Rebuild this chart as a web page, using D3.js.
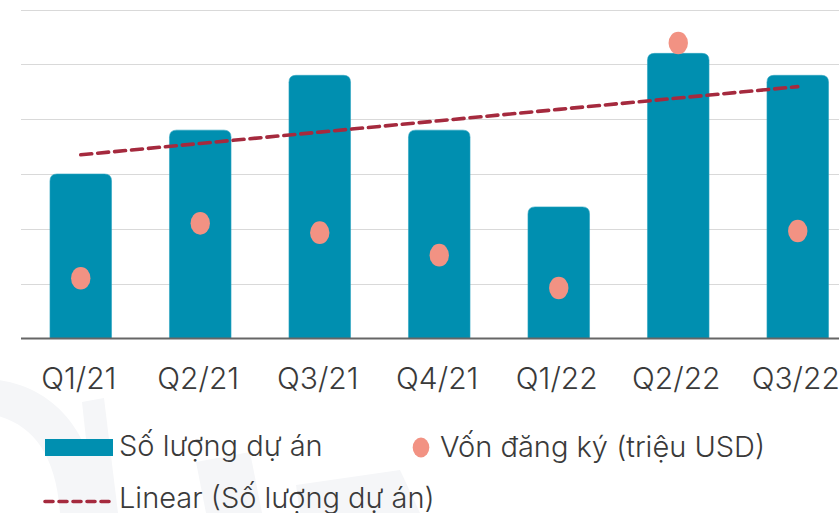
<!DOCTYPE html>
<html lang="vi">
<head>
    <meta charset="UTF-8">
    <title>Số lượng dự án và vốn đăng ký theo quý</title>
    <script src="https://d3js.org/d3.v7.min.js"></script>
    <style>
        html, body { margin: 0; padding: 0; background: #fff; overflow: hidden; }
        text { font-family: Inter, "Noto Sans", sans-serif; font-weight: 300; fill: #3a3a3a; }
    </style>
</head>
<body>
    <div id="chart"></div>

    <script>
        // quarters, project count (bars) and registered capital (dots, million USD)
        const quarters = ["Q1/21", "Q2/21", "Q3/21", "Q4/21", "Q1/22", "Q2/22", "Q3/22"];
        const projects = [30, 38, 48, 38, 24, 52, 48];
        const capital = [110, 210, 193, 152, 92, 539, 196];
        const legendLabels = ["Số lượng dự án", "Vốn đăng ký (triệu USD)", "Linear (Số lượng dự án)"];

        const width = 839, height = 513;
        const plotLeft = 21, bandStep = 119.5;
        const plotTop = 9.5, plotBottom = 338.5;

        const svg = d3.select("#chart")
                      .append("svg")
                      .attr("width", width)
                      .attr("height", height);

        // faint watermark in the background
        const wm = svg.append("g").attr("fill", "#f5f6f8");
        wm.append("path").attr("d", "M-40,380 C40,370 95,420 100,513 L60,513 C55,440 20,410 -40,412 Z");
        wm.append("path").attr("d", "M82,402 L104,398 L118,513 L94,513 Z");
        wm.append("path").attr("d", "M196,462 L250,452 L262,513 L206,513 Z");
        wm.append("path").attr("d", "M296,485 L400,470 L420,513 L300,513 Z");

        const x = d3.scaleBand()
                    .domain(quarters)
                    .range([plotLeft, plotLeft + bandStep * quarters.length])
                    .paddingInner(0.485)
                    .paddingOuter(0.2425);

        const y = d3.scaleLinear().domain([0, 60]).range([plotBottom, plotTop]);
        const y2 = d3.scaleLinear().domain([0, 600]).range([plotBottom, plotTop]);

        // gridlines
        svg.append("g")
           .selectAll("line")
           .data(y.ticks(6).filter(d => d > 0))
           .join("line")
           .attr("x1", plotLeft)
           .attr("x2", width)
           .attr("y1", d => Math.round(y(d)) + 0.5)
           .attr("y2", d => Math.round(y(d)) + 0.5)
           .attr("stroke", "#d9d9d9")
           .attr("stroke-width", 1.2);

        // bars with rounded tops
        const r = 7;
        function barPath(d, i) {
            const x0 = x(quarters[i]), x1 = x0 + x.bandwidth();
            const y0 = y(d), yb = plotBottom;
            return `M${x0},${yb} L${x0},${y0 + r} Q${x0},${y0} ${x0 + r},${y0}
                    L${x1 - r},${y0} Q${x1},${y0} ${x1},${y0 + r} L${x1},${yb} Z`;
        }
        svg.append("g")
           .selectAll("path")
           .data(projects)
           .join("path")
           .attr("d", barPath)
           .attr("fill", "#008fb0")
           .attr("stroke", "#2aa3c0")
           .attr("stroke-width", 0.6);

        // baseline
        svg.append("line")
           .attr("x1", plotLeft).attr("x2", width)
           .attr("y1", plotBottom).attr("y2", plotBottom)
           .attr("stroke", "#666")
           .attr("stroke-width", 2);

        // linear trend of project counts
        const n = projects.length;
        const mx = d3.mean(d3.range(n)), my = d3.mean(projects);
        const slope = d3.sum(projects, (d, i) => (i - mx) * (d - my)) /
                      d3.sum(d3.range(n), i => (i - mx) * (i - mx));
        const trend = d3.range(n).map(i => my + slope * (i - mx));
        const cx = q => x(q) + x.bandwidth() / 2;

        svg.append("path")
           .datum(trend)
           .attr("d", d3.line().x((d, i) => cx(quarters[i])).y(d => y(d)))
           .attr("fill", "none")
           .attr("stroke", "#a52a3e")
           .attr("stroke-width", 3.6)
           .attr("stroke-linecap", "round")
           .attr("stroke-dasharray", "11 6");

        // capital dots
        svg.append("g")
           .selectAll("ellipse")
           .data(capital)
           .join("ellipse")
           .attr("cx", (d, i) => cx(quarters[i]))
           .attr("cy", d => y2(d))
           .attr("rx", 9.7)
           .attr("ry", 11.3)
           .attr("fill", "#f29283");

        // x labels
        svg.append("g")
           .selectAll("text")
           .data(quarters)
           .join("text")
           .attr("x", d => cx(d) - 2)
           .attr("y", 389)
           .attr("text-anchor", "middle")
           .attr("font-size", 30)
           .text(d => d);

        // legend
        const lg = svg.append("g").attr("font-size", 29);
        lg.append("rect").attr("x", 45).attr("y", 439).attr("width", 68).attr("height", 17).attr("fill", "#008fb0");
        lg.append("text").attr("x", 119).attr("y", 455.5).text(legendLabels[0]);
        lg.append("ellipse").attr("cx", 421).attr("cy", 447.5).attr("rx", 8.3).attr("ry", 10).attr("fill", "#f29283");
        lg.append("text").attr("x", 440).attr("y", 456.5).text(legendLabels[1]);
        lg.append("line")
          .attr("x1", 45).attr("x2", 112).attr("y1", 501.5).attr("y2", 501.5)
          .attr("stroke", "#a52a3e").attr("stroke-width", 3.6)
          .attr("stroke-linecap", "round").attr("stroke-dasharray", "8 6");
        lg.append("text").attr("x", 119).attr("y", 508).text(legendLabels[2]);
    </script>
</body>
</html>
